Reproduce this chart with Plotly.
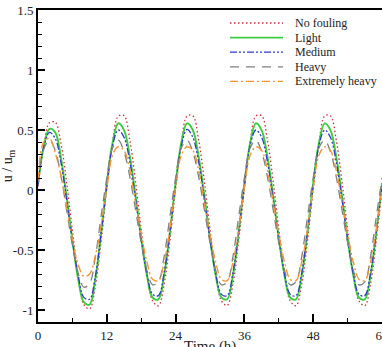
import plotly.graph_objects as go

# ---- data, hourly samples ----
TIME_H = list(range(0, 61))

NO_FOULING = [
    0.03, 0.36, 0.56, 0.565, 0.39, 0.06, -0.34, -0.71, -0.955, -0.99, -0.80, -0.43,
    0.01, 0.39, 0.615, 0.62, 0.42, 0.075, -0.33, -0.69, -0.925, -0.965, -0.785, -0.425,
    0.01, 0.39, 0.617, 0.618, 0.422, 0.077, -0.328, -0.692, -0.924, -0.962, -0.783, -0.423,
    0.009, 0.391, 0.616, 0.619, 0.422, 0.077, -0.328, -0.692, -0.925, -0.964, -0.783, -0.423,
    0.009, 0.391, 0.616, 0.619, 0.422, 0.077, -0.328, -0.692, -0.925, -0.964, -0.783, -0.423,
    0.009,
]
LIGHT = [
    0.05, 0.36, 0.51, 0.48, 0.27, -0.06, -0.42, -0.74, -0.935, -0.955, -0.74, -0.37,
    0.058, 0.393, 0.556, 0.499, 0.284, -0.043, -0.403, -0.712, -0.898, -0.911, -0.712, -0.353,
    0.058, 0.394, 0.556, 0.500, 0.284, -0.043, -0.402, -0.711, -0.897, -0.910, -0.712, -0.353,
    0.058, 0.393, 0.556, 0.499, 0.284, -0.043, -0.403, -0.712, -0.898, -0.911, -0.712, -0.353,
    0.058, 0.393, 0.555, 0.499, 0.284, -0.043, -0.403, -0.712, -0.898, -0.911, -0.712, -0.353,
    0.058,
]
MEDIUM = [
    0.04, 0.36, 0.48, 0.43, 0.23, -0.08, -0.42, -0.71, -0.895, -0.91, -0.72, -0.36,
    0.034, 0.37, 0.50, 0.44, 0.24, -0.07, -0.41, -0.70, -0.87, -0.88, -0.69, -0.35,
    0.034, 0.37, 0.505, 0.44, 0.24, -0.07, -0.41, -0.70, -0.87, -0.88, -0.69, -0.35,
    0.034, 0.37, 0.50, 0.44, 0.24, -0.07, -0.41, -0.70, -0.87, -0.88, -0.69, -0.35,
    0.034, 0.37, 0.50, 0.44, 0.24, -0.07, -0.41, -0.70, -0.87, -0.88, -0.69, -0.35,
    0.034,
]
HEAVY = [
    0.06, 0.34, 0.415, 0.33, 0.12, -0.17, -0.46, -0.69, -0.81, -0.78, -0.56, -0.22,
    0.10, 0.35, 0.415, 0.32, 0.115, -0.16, -0.44, -0.67, -0.79, -0.765, -0.555, -0.225,
    0.10, 0.35, 0.415, 0.32, 0.115, -0.16, -0.44, -0.67, -0.79, -0.765, -0.555, -0.225,
    0.10, 0.35, 0.415, 0.32, 0.115, -0.16, -0.44, -0.67, -0.79, -0.765, -0.555, -0.225,
    0.10, 0.35, 0.415, 0.32, 0.115, -0.16, -0.44, -0.67, -0.79, -0.765, -0.555, -0.225,
    0.10,
]
EXTREMELY_HEAVY = [
    0.08, 0.40, 0.43, 0.31, 0.12, -0.14, -0.41, -0.62, -0.72, -0.70, -0.55, -0.30,
    0.02, 0.29, 0.36, 0.33, 0.17, -0.10, -0.37, -0.60, -0.745, -0.755, -0.60, -0.33,
    0.02, 0.29, 0.36, 0.33, 0.17, -0.10, -0.37, -0.60, -0.745, -0.755, -0.60, -0.33,
    0.02, 0.29, 0.36, 0.33, 0.17, -0.10, -0.37, -0.60, -0.745, -0.755, -0.60, -0.33,
    0.02, 0.29, 0.36, 0.33, 0.17, -0.10, -0.37, -0.60, -0.745, -0.755, -0.60, -0.33,
    0.02,
]

SERIES_NAMES = ["No fouling", "Light", "Medium", "Heavy", "Extremely heavy"]
X_TICKS = [0, 12, 24, 36, 48, 60]
Y_TICKS = [-1, -0.5, 0, 0.5, 1, 1.5]
Y_TICK_TEXT = ["-1", "-0.5", "0", "0.5", "1", "1.5"]
X_TITLE = "Time (h)"
Y_TITLE = "u / u<sub>m</sub>"

# ---- styles ----
STYLES = [
    dict(color="rgb(205,45,60)", width=1.3, dash="1.5px,2.5px"),
    dict(color="rgb(60,205,60)", width=1.9, dash="solid"),
    dict(color="rgb(45,60,195)", width=1.3, dash="7px,2px,2px,2px,2px,2px"),
    dict(color="rgb(128,128,128)", width=1.3, dash="9px,7px"),
    dict(color="rgb(242,150,55)", width=1.4, dash="8px,3px,2px,3px"),
]

FONT = "Liberation Serif"

W, H = 382, 347
ML, MR, MT, MB = 38, 0, 10, 25

fig = go.Figure()
for name, ys, st in zip(SERIES_NAMES, [NO_FOULING, LIGHT, MEDIUM, HEAVY, EXTREMELY_HEAVY], STYLES):
    fig.add_trace(go.Scatter(
        x=TIME_H, y=ys, name=name, mode="lines",
        line=dict(color=st["color"], width=st["width"], dash=st["dash"], shape="spline", smoothing=1.0),
        showlegend=False,
    ))

# manual legend (compact spacing like the reference)
pw, ph = W - ML - MR, H - MT - MB
def px2paper(px, py):
    return (px - ML) / pw, (H - MB - py) / ph

shapes, annotations = [], []
for i, (name, st) in enumerate(zip(SERIES_NAMES, STYLES)):
    py = 23 + 14.6 * i
    x0, y0 = px2paper(230, py)
    x1, _ = px2paper(283, py)
    xt, _ = px2paper(293, py)
    shapes.append(dict(type="line", xref="paper", yref="paper", x0=x0, x1=x1, y0=y0, y1=y0,
                       line=dict(color=st["color"], width=st["width"], dash=st["dash"])))
    annotations.append(dict(xref="paper", yref="paper", x=xt, y=y0, text=name, showarrow=False,
                            xanchor="left", yanchor="middle", font=dict(family=FONT, size=12, color="#222")))

# x-axis title (placed below the tick labels, partly cut by the window like the reference)
xt_x, xt_y = px2paper((ML + W - MR) / 2, 336)
annotations.append(dict(xref="paper", yref="paper", x=xt_x, y=xt_y, text=X_TITLE, showarrow=False,
                        xanchor="center", yanchor="top", font=dict(family=FONT, size=15, color="#222")))

fig.update_layout(
    width=W, height=H,
    margin=dict(l=ML, r=MR, t=MT, b=MB),
    paper_bgcolor="white", plot_bgcolor="white",
    font=dict(family=FONT, size=12, color="#222"),
    shapes=shapes, annotations=annotations,
    showlegend=False,
)
fig.update_xaxes(
    range=[0, 60], tickvals=X_TICKS, ticks="inside", ticklen=8, tickwidth=1.5, tickcolor="black",
    minor=dict(dtick=6, tick0=0, ticks="inside", ticklen=4, tickwidth=1.2, tickcolor="black"),
    showline=True, linewidth=2, linecolor="black", mirror=True,
    showgrid=False, zeroline=False, automargin=False, ticklabeloverflow="allow",
    tickfont=dict(family=FONT, size=13, color="#222"),
)
fig.update_yaxes(
    range=[-1.1, 1.5], tickvals=Y_TICKS, ticktext=Y_TICK_TEXT, ticks="inside", ticklen=7, tickwidth=1.5,
    tickcolor="black",
    minor=dict(dtick=0.1, tick0=0, ticks="inside", ticklen=4, tickwidth=1.2, tickcolor="black"),
    showline=True, linewidth=2, linecolor="black", mirror=True,
    showgrid=False, zeroline=False, automargin=False,
    tickfont=dict(family=FONT, size=13, color="#222"),
    title=dict(text=Y_TITLE, font=dict(family=FONT, size=14, color="#222"), standoff=4),
)

fig.write_html("out.html")
